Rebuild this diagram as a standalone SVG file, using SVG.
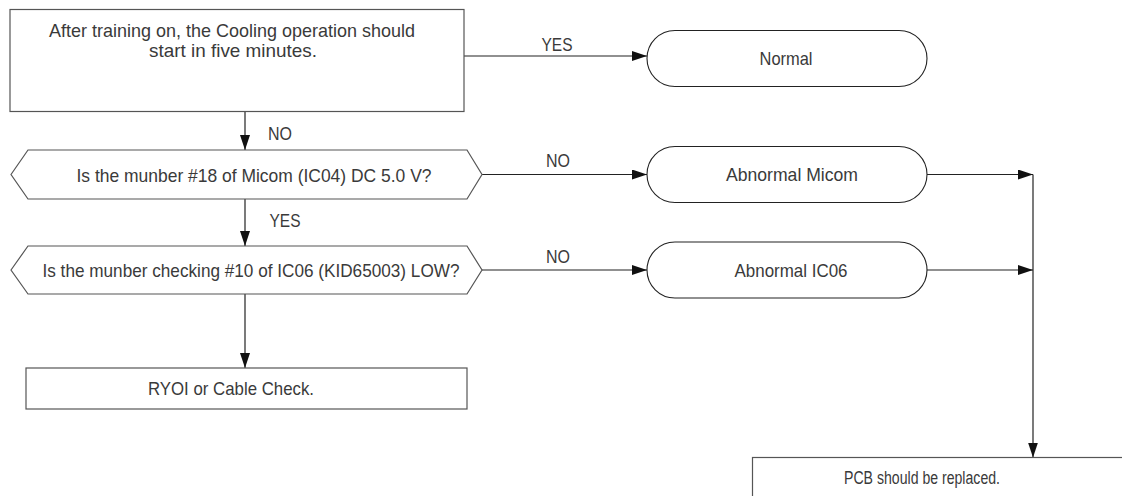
<svg xmlns="http://www.w3.org/2000/svg" width="1122" height="496" viewBox="0 0 1122 496">
  <style>
    .box { fill: #fff; stroke: #555; stroke-width: 1.2; }
    .term { fill: #fff; stroke: #222; stroke-width: 1.1; }
    .wire { fill: none; stroke: #222; stroke-width: 1.2; }
    text { font-family: "Liberation Sans", Arial, sans-serif; font-size: 19px; fill: #3a3a3a; text-anchor: middle; }
    .small { font-size: 18px; }
  </style>
  <defs>
    <marker id="arrow" markerUnits="userSpaceOnUse" markerWidth="15" markerHeight="10" refX="15" refY="5" orient="auto">
      <path d="M0,0 L15,5 L0,10 z" fill="#111"/>
    </marker>
  </defs>
  <rect width="1122" height="496" fill="#fff"/>

  <!-- connectors and their branch labels -->
  <g id="connectors">
    <line class="wire" x1="464" y1="56" x2="647" y2="56" marker-end="url(#arrow)"/>
    <line class="wire" x1="245" y1="112" x2="245" y2="150" marker-end="url(#arrow)"/>
    <line class="wire" x1="482" y1="174.5" x2="647" y2="174.5" marker-end="url(#arrow)"/>
    <line class="wire" x1="245" y1="199" x2="245" y2="246" marker-end="url(#arrow)"/>
    <line class="wire" x1="482" y1="270" x2="647" y2="270" marker-end="url(#arrow)"/>
    <line class="wire" x1="245" y1="294" x2="245" y2="368" marker-end="url(#arrow)"/>
    <line class="wire" x1="927" y1="174.5" x2="1033" y2="174.5" marker-end="url(#arrow)"/>
    <line class="wire" x1="927" y1="270" x2="1033" y2="270" marker-end="url(#arrow)"/>
    <line class="wire" x1="1033" y1="174.5" x2="1033" y2="457.5" marker-end="url(#arrow)"/>
    <text x="557" y="51" textLength="31" lengthAdjust="spacingAndGlyphs">YES</text>
    <text x="280" y="140" textLength="24" lengthAdjust="spacingAndGlyphs">NO</text>
    <text x="285" y="227" textLength="31" lengthAdjust="spacingAndGlyphs">YES</text>
    <text x="558" y="167" textLength="24" lengthAdjust="spacingAndGlyphs">NO</text>
    <text x="558" y="263" textLength="24" lengthAdjust="spacingAndGlyphs">NO</text>
  </g>

  <g id="start">
    <rect class="box" x="10" y="9.5" width="454" height="102"/>
    <text x="232" y="37" textLength="366" lengthAdjust="spacingAndGlyphs">After training on, the Cooling operation should</text>
    <text x="233" y="57" textLength="168" lengthAdjust="spacingAndGlyphs">start in five minutes.</text>
  </g>

  <g id="normal">
    <rect class="term" x="647" y="30.5" width="280" height="56" rx="28" ry="28"/>
    <text x="786" y="65" textLength="53" lengthAdjust="spacingAndGlyphs">Normal</text>
  </g>

  <g id="check-micom">
    <polygon class="box" points="11,174.5 28,150 467,150 482,174.5 467,199 28,199"/>
    <text x="254" y="182" textLength="355" lengthAdjust="spacingAndGlyphs">Is the munber #18 of Micom (IC04) DC 5.0 V?</text>
  </g>

  <g id="abnormal-micom">
    <rect class="term" x="647" y="146.5" width="280" height="56" rx="28" ry="28"/>
    <text x="792" y="181" textLength="132" lengthAdjust="spacingAndGlyphs">Abnormal Micom</text>
  </g>

  <g id="check-ic06">
    <polygon class="box" points="11,270 28,246 467,246 482,270 467,294 28,294"/>
    <text x="251" y="277" textLength="417" lengthAdjust="spacingAndGlyphs">Is the munber checking #10 of IC06 (KID65003) LOW?</text>
  </g>

  <g id="abnormal-ic06">
    <rect class="term" x="647" y="242" width="280" height="56" rx="28" ry="28"/>
    <text x="791" y="277" textLength="113" lengthAdjust="spacingAndGlyphs">Abnormal IC06</text>
  </g>

  <g id="cable-check">
    <rect class="box" x="26" y="368" width="441" height="41"/>
    <text x="231" y="395" textLength="166" lengthAdjust="spacingAndGlyphs">RYOI or Cable Check.</text>
  </g>

  <g id="replace-pcb">
    <rect class="box" x="752.5" y="457.5" width="400" height="60"/>
    <text class="small" x="922" y="484" textLength="156" lengthAdjust="spacingAndGlyphs">PCB should be replaced.</text>
  </g>
</svg>
